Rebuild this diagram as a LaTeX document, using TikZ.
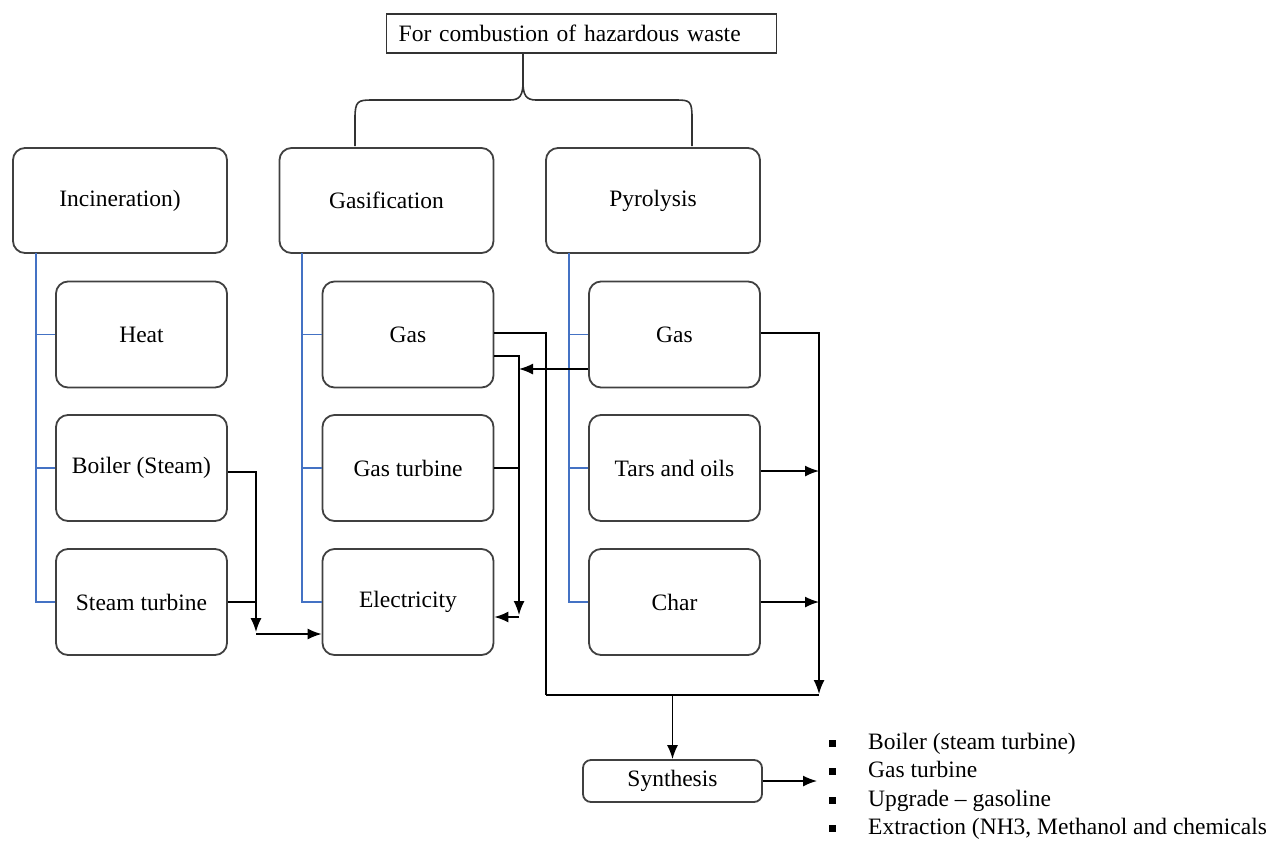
\documentclass[tikz,border=0pt]{standalone}
\usepackage{fontspec}
\setmainfont{Liberation Serif}
\usetikzlibrary{arrows.meta,calc}
\begin{document}
\begin{tikzpicture}[x=1pt,y=-1pt,
  txt/.style={font=\fontsize{23.5}{28.3}\selectfont},
  box/.style={txt,draw=black!75,line width=1.8pt,rounded corners=12pt,minimum width=214pt,minimum height=105pt,inner sep=0pt},
  sub/.style={box,minimum width=171pt,minimum height=106pt},
  bl/.style={draw={rgb,255:red,68;green,114;blue,196},line width=1.4pt},
  cn/.style={draw=black,line width=1.5pt},
  arr/.style={cn,-{Latex[length=14pt,width=11pt]}},
  brace/.style={draw=black!80,line width=1.6pt}]
\useasboundingbox (0,0) rectangle (1287,841);
% title
\node[txt,draw=black!80,line width=1.4pt,anchor=west,text width=366pt,align=left,inner xsep=12pt,minimum height=39pt,inner ysep=0pt] (top) at (386,33.5) {For combustion of hazardous waste};
% main boxes
\node[box] (inc) at (120,200.5) {Incineration)};
\node[box] (gas) at (386.5,200.5) {Gasification};
\node[box] (pyr) at (653,200.5) {Pyrolysis};
% sub boxes
\node[sub] (heat) at (141.5,334.5) {Heat};
\node[sub] (boiler) at (141.5,468) {Boiler (Steam)};
\node[sub] (steamt) at (141.5,602) {Steam turbine};
\node[sub] (ggas) at (408,334.5) {Gas};
\node[sub] (gturb) at (408,468) {Gas turbine};
\node[sub] (elec) at (408,602) {Electricity};
\node[sub] (pgas) at (674.5,334.5) {Gas};
\node[sub] (tars) at (674.5,468) {Tars and oils};
\node[sub] (char) at (674.5,602) {Char};
\node[box,minimum width=179pt,minimum height=42pt,rounded corners=8pt] (syn) at (672.5,781) {Synthesis};
% bullet list
\node[txt,anchor=north west,align=left,inner sep=0pt] (list) at (829,733) {%
\makebox[39pt][l]{\rule[2.5pt]{7pt}{7pt}}Boiler (steam turbine)\\
\makebox[39pt][l]{\rule[2.5pt]{7pt}{7pt}}Gas turbine\\
\makebox[39pt][l]{\rule[2.5pt]{7pt}{7pt}}Upgrade -- gasoline\\
\makebox[39pt][l]{\rule[2.5pt]{7pt}{7pt}}Extraction (NH3, Methanol and chemicals};
% brace
\coordinate (bs) at (523,53);
\coordinate (bl) at (355,146);
\coordinate (br) at (692,146);
\draw[brace] (bl) -- (355,118) .. controls (355,101) and (358,100) .. (372,100) -- (510,100) .. controls (520,100) and (523,95) .. (523,82) -- (bs);
\draw[brace] (523,82) .. controls (523,95) and (526,100) .. (536,100) -- (676,100) .. controls (690,100) and (692,101) .. (692,118) -- (br);
% blue tree lines
\coordinate (bi) at (36,253);
\draw[bl] (bi) |- (steamt.west);
\draw[bl] (bi |- heat.west) -- (heat.west);
\draw[bl] (bi |- boiler.west) -- (boiler.west);
\coordinate (bg) at (302,253);
\draw[bl] (bg) |- (elec.west);
\draw[bl] (bg |- ggas.west) -- (ggas.west);
\draw[bl] (bg |- gturb.west) -- (gturb.west);
\coordinate (bp) at (569,253);
\draw[bl] (bp) |- (char.west);
\draw[bl] (bp |- pgas.west) -- (pgas.west);
\draw[bl] (bp |- tars.west) -- (tars.west);
% incineration to electricity
\coordinate (ja) at (256,632);
\coordinate (jb) at (256,634);
\draw[arr] ($(boiler.east)+(0,4)$) -| (ja);
\draw[cn] (steamt.east) -- (steamt.east -| ja);
\draw[arr] (jb) -- (elec.west |- jb);
% gasification connectors
\coordinate (g1) at (546,333);
\coordinate (g2) at (519,356);
\coordinate (bot1) at (546,695);
\coordinate (bot2) at (819,695);
\coordinate (e1) at (519,615);
\coordinate (e2) at (519,617);
\draw[cn] (ggas.east |- g1) -- (g1) -- (bot1);
\draw[arr] (ggas.east |- g2) -- (g2) -- (e1);
\draw[arr] (e2) -- (elec.east |- e2);
\draw[arr] (pgas.west |- 519,369) -- (519,369);
\draw[cn] (gturb.east) -- (gturb.east -| g2);
% pyrolysis connectors
\coordinate (p1) at (819,333);
\draw[arr] (pgas.east |- p1) -- (p1) -- ($(bot2)+(0,-1)$);
\draw[arr] ($(tars.east)+(0,3)$) -- ($(tars.east -| p1)+(0,3)$);
\draw[arr] (char.east) -- (char.east -| p1);
\draw[cn] (bot1) -- (bot2);
% synthesis
\draw[arr] (syn.north |- bot1) -- (syn.north);
\coordinate (se) at (817,781);
\draw[arr] (syn.east) -- (se);
\end{tikzpicture}
\end{document}
